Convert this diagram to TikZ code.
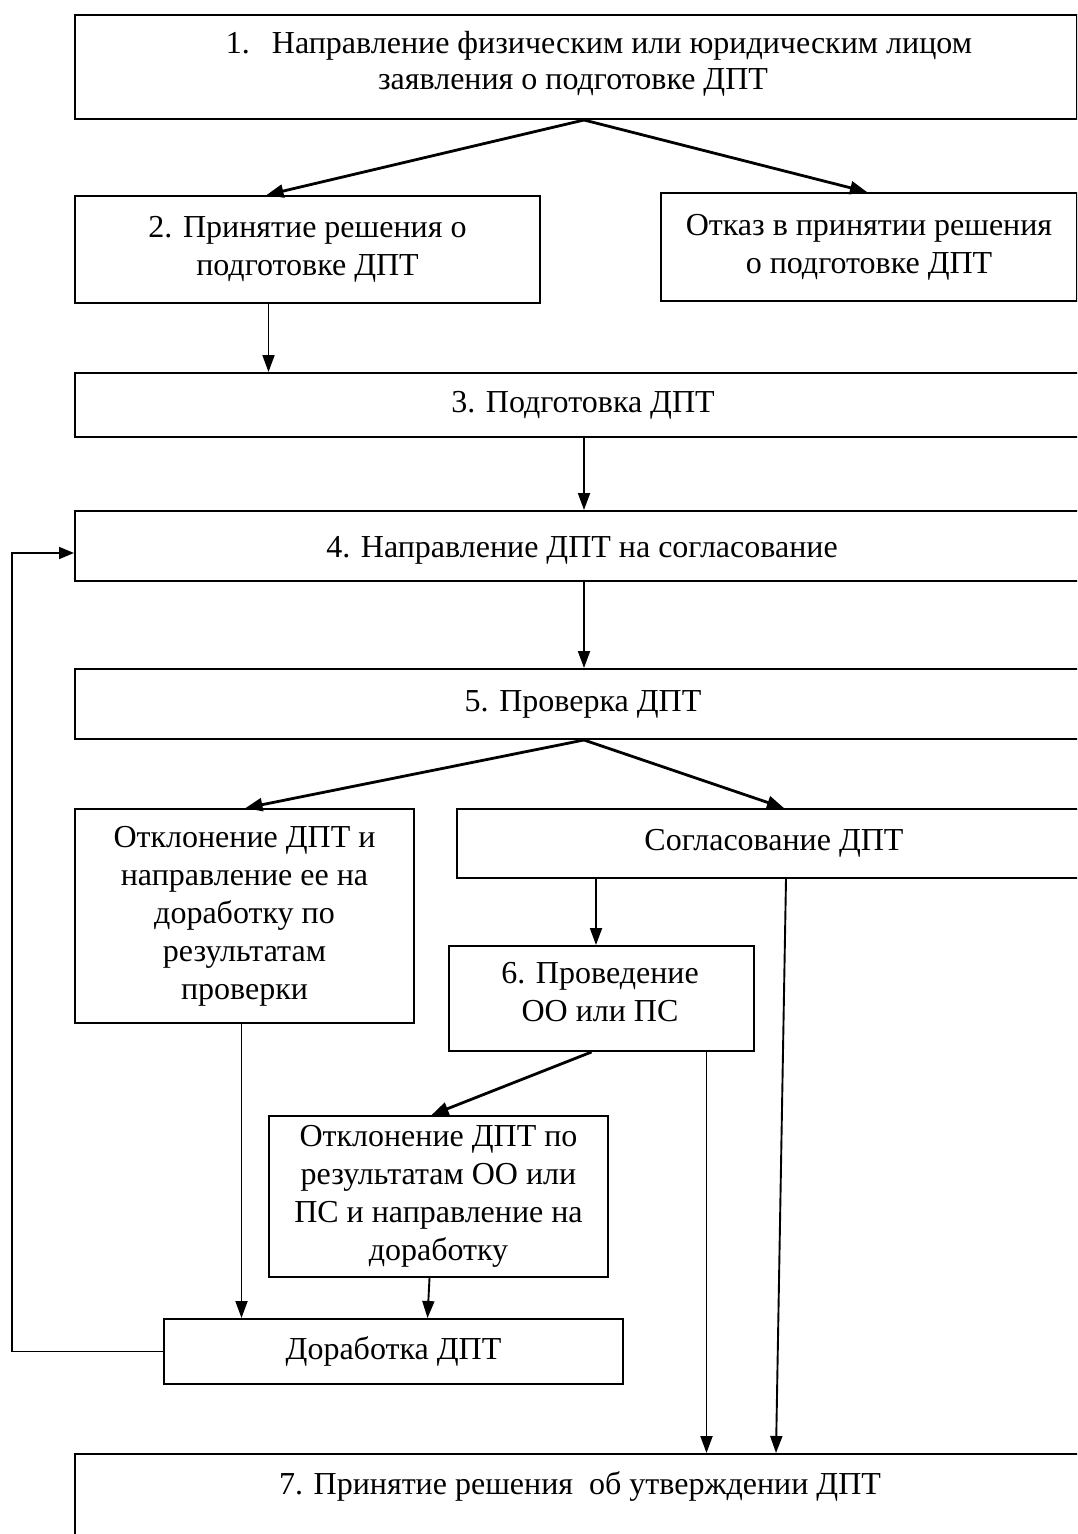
\documentclass[tikz,border=0pt]{standalone}
\usepackage{fontspec}
\setmainfont{Liberation Serif}
\usetikzlibrary{arrows.meta}
\tikzset{
  box/.style={draw=black, line width=2pt, rectangle, anchor=north west, inner sep=0pt, align=center, font=\fontsize{32}{38}\selectfont},
  txt/.style={inner sep=0pt, align=center, font=\fontsize{32}{38}\selectfont},
  arr/.style={line width=1.9pt, -{Triangle[length=17pt,width=12pt]}},
  darr/.style={line width=2.8pt, -{Triangle[length=17pt,width=13pt]}},
  loopline/.style={line width=1.6pt, -{Triangle[length=15pt,width=12pt]}}
}
\begin{document}
\begin{tikzpicture}[x=1pt,y=-1pt]
\clip (0,0) rectangle (1077,1534);
\fill[white] (0,0) rectangle (1077,1534);

% boxes
\node[box, minimum width=1002pt, minimum height=104pt] (b1) at (74,14) {};
\node[txt] (t1a) at (599,46) {1.\hspace{22pt}Направление физическим или юридическим лицом};
\node[txt] (t1b) at (573,82) {заявления о подготовке ДПТ};

\node[box, minimum width=465pt, minimum height=107pt] (b2) at (74,195) {2. Принятие решения о\\подготовке ДПТ};
\node[box, minimum width=416pt, minimum height=108pt] (ot) at (660,192) {Отказ в принятии решения\\о подготовке ДПТ};

\node[box, minimum width=1016pt, minimum height=64pt] (b3) at (74,372) {3. Подготовка ДПТ};
\node[box, minimum width=1016pt, minimum height=70pt] (b4) at (74,510) {};
\node[txt] (t4) at (582,550) {4. Направление ДПТ на согласование};
\node[box, minimum width=1016pt, minimum height=70pt] (b5) at (74,668) {5. Проверка ДПТ};

\node[box, minimum width=339pt, minimum height=214pt] (r1) at (74,808) {Отклонение ДПТ и\\направление ее на\\доработку по\\результатам\\проверки};
\node[box, minimum width=634pt, minimum height=69pt] (sg) at (456,808) {Согласование ДПТ};

\node[box, minimum width=305pt, minimum height=105pt] (b6) at (448,945) {};
\node[txt] (t6) at (600,992) {6. Проведение\\ОО или ПС};
\node[box, minimum width=339pt, minimum height=161pt] (r2) at (268,1115) {Отклонение ДПТ по\\результатам ОО или\\ПС и направление на\\доработку};
\node[box, minimum width=459pt, minimum height=65pt] (dor) at (163,1318) {Доработка ДПТ};

\node[box, minimum width=1016pt, minimum height=150pt] (b7) at (74,1453) {};
\node[txt] (t7) at (580,1486) {7. Принятие решения\ \ об утверждении ДПТ};

% connectors
\coordinate (b4in) at ([yshift=-7pt]b4.west);
\draw[darr] ([xshift=8pt]b1.south) -- ([xshift=-41pt]b2.north);
\draw[darr] ([xshift=8pt]b1.south) -- ([xshift=-2pt]ot.north);
\draw[arr] ([xshift=-39pt]b2.south) coordinate (a2) -- (a2 |- b3.north);
\draw[arr] ([xshift=1pt]b3.south) coordinate (a3) -- (a3 |- b4.north);
\draw[arr] ([xshift=1pt]b4.south) coordinate (a4) -- (a4 |- b5.north);
\draw[darr] ([xshift=1pt]b5.south) -- ([xshift=1pt]r1.north);
\draw[darr] ([xshift=1pt]b5.south) -- ([xshift=10pt]sg.north);
\draw[arr] ([xshift=-178pt]sg.south) coordinate (s1) -- (s1 |- b6.north);
\draw[arr] ([xshift=12pt]sg.south) coordinate (s2) -- ([xshift=-10pt]s2 |- b7.north);
\draw[arr] ([xshift=105pt]b6.south) coordinate (s6) -- (s6 |- b7.north);
\draw[darr] ([xshift=-10pt]b6.south) -- ([xshift=-7pt]r2.north);
\draw[arr] ([xshift=-3pt]r1.south) coordinate (s7) -- (s7 |- dor.north);
\draw[arr] ([xshift=-9pt]r2.south) -- ([xshift=34pt]dor.north);
\draw[loopline] (dor.west) -- ++(-151,0) coordinate (c1) -- (c1 |- b4in) -- (b4in);
\end{tikzpicture}
\end{document}
